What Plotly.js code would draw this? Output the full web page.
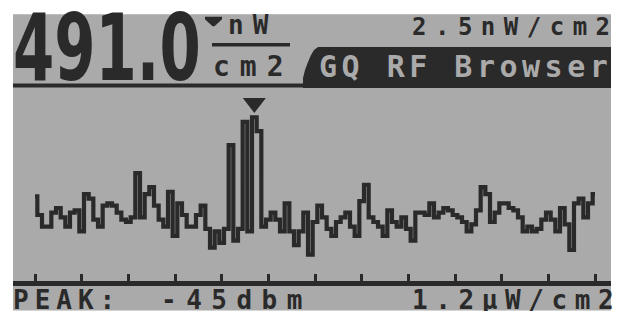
<!DOCTYPE html>
<html><head><meta charset="utf-8">
<script src="https://cdn.plot.ly/plotly-3.0.1.min.js"></script>
<style>html,body{margin:0;padding:0;background:#fff;overflow:hidden}#chart{width:621px;height:311px}</style>
</head><body><div id="chart"></div>
<script>
// ---- data ----
const signalLevel = [37,29,24,24,30,32,28,24,30,31,22,38,36,27,24,33,34,33,30,27,
  26,28,47,28,38,41,33,27,24,39,20,34,29,24,24,29,33,23,15,22,
  17,23,59,18,23,69,22,71,65,24,27,30,27,22,34,22,16,22,30,12,
  26,33,28,23,20,26,28,30,24,20,35,42,28,26,24,20,31,26,24,28,
  23,18,30,30,29,34,28,30,32,31,29,28,26,22,25,31,41,38,26,30,
  34,34,32,31,28,22,24,22,23,27,30,27,22,32,25,14,34,36,28,34,38];
const tickPositions = [0,10,20,30,40,50,60,70,80,90,100,110,120];
const readingValue = "491.0";
const readingUnitTop = "nW";
const readingUnitBottom = "cm2";
const thresholdText = "2.5nW/cm2";
const screenTitle = "GQ RF Browser";
const peakLabel = "PEAK:";
const peakDbm = "-45dbm";
const peakDensity = "1.2µW/cm2";

// ---- geometry (pixels) ----
const W = 621, H = 311;
const ML = 13, MR = 10, MT = 88, PLOT_BOTTOM = 281.5;
const plotW = W - ML - MR, plotH = PLOT_BOTTOM - MT;
const X0PX = 35, COLPX = 14 / 3;
const BASEPX = 283, ROWPX = 7 / 3;
const xp = px => (px - ML) / plotW;
const yp = py => (PLOT_BOTTOM - py) / plotH;
const DARK = '#2a2a2a', LCD = '#aaaaaa';
const MONO = 'DejaVu Sans Mono, monospace';

const idx = signalLevel.map((v, i) => i);
let peakIdx = 0;
signalLevel.forEach((v, i) => { if (v > signalLevel[peakIdx]) peakIdx = i; });

const traces = [
  { x: idx, y: signalLevel, type: 'scatter', mode: 'lines',
    line: { shape: 'hvh', width: 4.2, color: DARK }, hoverinfo: 'skip', showlegend: false },
  { x: [peakIdx], y: [(BASEPX - 103) / ROWPX], type: 'scatter', mode: 'markers',
    marker: { symbol: 'triangle-down', size: 20, color: DARK }, hoverinfo: 'skip', showlegend: false }
];

const labels = [
  { text: readingValue, left: 12, mid: 48.5, size: 92, family: 'DejaVu Sans, sans-serif', weight: 'bold', color: DARK, spacing: 0, scaleX: 0.645 },
  { text: readingUnitTop, left: 227, mid: 24.5, size: 26, family: MONO, weight: 'bold', color: DARK, spacing: 9 },
  { text: readingUnitBottom, left: 212, mid: 66, size: 28, family: MONO, weight: 'bold', color: DARK, spacing: 10 },
  { text: thresholdText, left: 411, mid: 26.5, size: 24, family: MONO, weight: 'bold', color: DARK, spacing: 8.5 },
  { text: screenTitle, left: 318, mid: 66, size: 30, family: MONO, weight: 'bold', color: LCD, spacing: 4.5 },
  { text: peakLabel, left: 12, mid: 301, size: 26, family: MONO, weight: 'bold', color: DARK, spacing: 6 },
  { text: peakDbm, left: 160, mid: 301, size: 26, family: MONO, weight: 'bold', color: DARK, spacing: 9.5 },
  { text: peakDensity, left: 411, mid: 301, size: 26, family: MONO, weight: 'bold', color: DARK, spacing: 7.6 }
];

const annotations = labels.map(l => ({
  text: l.text, xref: 'paper', yref: 'paper', x: xp(l.left), y: yp(l.mid),
  xanchor: 'left', yanchor: 'middle', align: 'left', showarrow: false, borderpad: 0,
  font: { family: l.family, size: l.size, color: l.color, weight: l.weight }
}));

function pathFrom(points) {
  return 'M ' + points.map(p => xp(p[0]) + ',' + yp(p[1])).join(' L ') + ' Z';
}

const shapes = [
  { type: 'rect', xref: 'paper', yref: 'paper', x0: xp(13), x1: xp(611), y0: yp(311), y1: yp(14),
    fillcolor: LCD, line: { width: 0 }, layer: 'below' },
  { type: 'rect', xref: 'paper', yref: 'paper', x0: xp(13), x1: xp(306), y0: yp(87.5), y1: yp(83.5),
    fillcolor: DARK, line: { width: 0 } },
  { type: 'path', xref: 'paper', yref: 'paper',
    path: pathFrom([[303, 88], [303, 78], [305, 70], [308, 62], [311, 55], [314, 50], [318, 47], [611, 47], [611, 88]]),
    fillcolor: DARK, line: { width: 0 } },
  { type: 'path', xref: 'paper', yref: 'paper',
    path: pathFrom([[205, 16.5], [222, 16.5], [222, 19], [214.5, 26], [212.5, 26], [205, 19]]),
    fillcolor: DARK, line: { width: 0 } },
  { type: 'rect', xref: 'paper', yref: 'paper', x0: xp(212), x1: xp(290), y0: yp(46.5), y1: yp(43),
    fillcolor: DARK, line: { width: 0 } }
];

const layout = {
  width: W, height: H,
  margin: { l: ML, r: MR, t: MT, b: H - PLOT_BOTTOM, pad: 0 },
  paper_bgcolor: '#ffffff', plot_bgcolor: LCD,
  showlegend: false,
  xaxis: { range: [(ML - X0PX) / COLPX, (W - MR - X0PX) / COLPX], showgrid: false, zeroline: false,
    showline: true, linewidth: 4.5, linecolor: DARK, ticks: 'inside', ticklen: 7, tickwidth: 3,
    tickcolor: DARK, tickmode: 'array', tickvals: tickPositions, showticklabels: false, fixedrange: true },
  yaxis: { range: [(BASEPX - PLOT_BOTTOM) / ROWPX, (BASEPX - MT) / ROWPX], visible: false,
    showgrid: false, zeroline: false, fixedrange: true },
  annotations: annotations, shapes: shapes
};

Plotly.newPlot('chart', traces, layout, { staticPlot: true, displayModeBar: false }).then(gd => {
  const nodes = gd.querySelectorAll('.annotation-text');
  nodes.forEach((n, i) => {
    const l = labels[i];
    if (!l) return;
    if (l.spacing) n.style.letterSpacing = l.spacing + 'px';
    if (l.scaleX) {
      const x0 = parseFloat(n.getAttribute('x')) || 0;
      const prev = n.getAttribute('transform') || '';
      n.setAttribute('transform', (prev + ' translate(' + (x0 * (1 - l.scaleX)) + ',0) scale(' + l.scaleX + ',1)').trim());
    }
  });
});
</script></body></html>
